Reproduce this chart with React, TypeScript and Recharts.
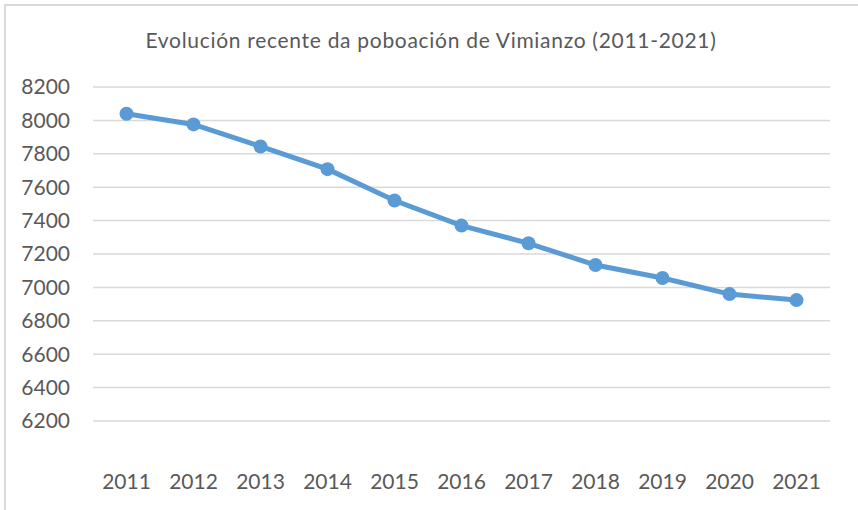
import React from "react";
import { LineChart, Line, XAxis, YAxis, CartesianGrid } from "recharts";

const years = ["2011", "2012", "2013", "2014", "2015", "2016", "2017", "2018", "2019", "2020", "2021"];
const population = [8040, 7976, 7844, 7708, 7520, 7370, 7264, 7134, 7056, 6960, 6924];
const yTicks = [6200, 6400, 6600, 6800, 7000, 7200, 7400, 7600, 7800, 8000, 8200];

const data = years.map((year, i) => ({ year, population: population[i] }));

const font = "Lato, 'Open Sans', sans-serif";
const textColor = "#595959";

export default function App() {
  return (
    <div style={{ position: "absolute", left: 0, top: 0, width: 858, height: 510, background: "#fff", fontFamily: font }}>
      <div
        style={{
          position: "absolute",
          left: 4,
          top: 4,
          right: 0,
          bottom: 0,
          borderTop: "2px solid #d9d9d9",
          borderLeft: "2px solid #d9d9d9",
        }}
      />
      <div
        style={{
          position: "absolute",
          top: 27,
          left: 0,
          width: 862,
          textAlign: "center",
          fontSize: 21,
          color: textColor,
          letterSpacing: 0.7,
        }}
      >
        Evolución recente da poboación de Vimianzo (2011-2021)
      </div>
      <LineChart
        width={858}
        height={510}
        data={data}
        margin={{ top: 87, right: 28, bottom: 16, left: 0 }}
        style={{ position: "absolute", left: 0, top: 0 }}
      >
        <CartesianGrid vertical={false} stroke="#d9d9d9" strokeWidth={1.5} />
        <XAxis
          dataKey="year"
          scale="band"
          axisLine={false}
          tickLine={false}
          tickSize={0}
          tickMargin={53}
          height={73}
          tick={{ fontSize: 21, fill: textColor, fontFamily: font }}
        />
        <YAxis
          domain={[6200, 8200]}
          ticks={yTicks}
          interval={0}
          axisLine={false}
          tickLine={false}
          tickSize={0}
          tickMargin={23}
          width={93}
          tick={{ fontSize: 21, fill: textColor, fontFamily: font }}
        />
        <Line
          type="linear"
          dataKey="population"
          stroke="#5b9bd5"
          strokeWidth={5}
          dot={{ r: 7, fill: "#5b9bd5", stroke: "#5b9bd5", strokeWidth: 0 }}
          isAnimationActive={false}
        />
      </LineChart>
    </div>
  );
}
